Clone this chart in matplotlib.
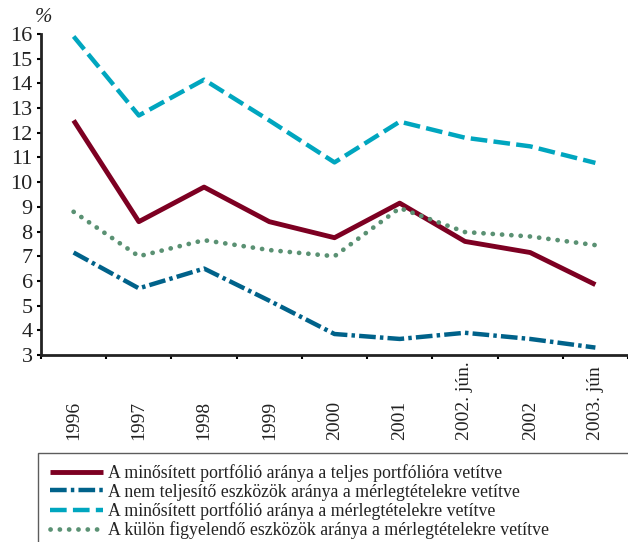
import numpy as np
import matplotlib
matplotlib.use("Agg")
import matplotlib.pyplot as plt

plt.rcParams['font.family'] = ['Liberation Serif', 'DejaVu Serif']
plt.rcParams['lines.scale_dashes'] = False

categories = ["1996", "1997", "1998", "1999", "2000", "2001",
              "2002. jún.", "2002", "2003. jún"]

minositett_teljes = [12.5, 8.4, 9.8, 8.4, 7.75, 9.15, 7.6, 7.15, 5.85]
nem_teljesito = [7.15, 5.7, 6.5, 5.2, 3.85, 3.65, 3.9, 3.65, 3.3]
minositett_merleg = [15.9, 12.7, 14.15, 12.5, 10.8, 12.45, 11.8, 11.45, 10.78]
kulon_figyelendo = [8.8, 7.0, 7.65, 7.25, 7.0, 8.95, 7.98, 7.8, 7.45]

labels = [
    "A minősített portfólió aránya a teljes portfólióra vetítve",
    "A nem teljesítő eszközök aránya a mérlegtételekre vetítve",
    "A minősített portfólió aránya a mérlegtételekre vetítve",
    "A külön figyelendő eszközök aránya a mérlegtételekre vetítve",
]

fig = plt.figure(figsize=(6.28, 5.42), dpi=100)
ax = fig.add_axes([41 / 628, 1 - 355 / 542, 1 - 41 / 628, (355 - 34) / 542])

x = np.arange(len(categories))
ax.plot(x, minositett_teljes, color='#7D0022', lw=3.5,
        solid_capstyle='butt', label=labels[0])
ax.plot(x, nem_teljesito, color='#00628A', lw=3.2,
        dashes=(12, 3, 2.5, 3), dash_capstyle='butt', label=labels[1])
ax.plot(x, minositett_merleg, color='#00A6BF', lw=3.2,
        dashes=(12, 4.5), dash_capstyle='butt', label=labels[2])
ax.plot(x, kulon_figyelendo, color='#5A9173', lw=3.4,
        dashes=(0.1, 6.6), dash_capstyle='round', label=labels[3])

ax.set_xlim(-0.5, len(categories) - 0.5)
ax.set_ylim(3, 16)
ax.set_yticks(range(3, 17))
ax.tick_params(axis='y', direction='out', length=3, width=1.5,
               labelsize=16, pad=3, labelcolor='#222222')

ax.set_xticks(x)
ax.set_xticklabels(categories, rotation=90, va='bottom', ha='center')
ax.set_xticks(np.arange(-0.5, len(categories), 1), minor=True)
ax.tick_params(axis='x', which='major', length=0, labelsize=14, pad=61,
               labelcolor='#222222')
ax.tick_params(axis='x', which='minor', direction='out', length=3, width=1.5)

for s in ['top', 'right']:
    ax.spines[s].set_visible(False)
for s in ['left', 'bottom']:
    ax.spines[s].set_linewidth(2)
    ax.spines[s].set_color('#222222')

fig.text(44 / 628, 1 - 18 / 542, "%", fontsize=15, ha='center', va='center',
         style='italic', color='#222222')

top = 1 - 453 / 542
leg = fig.legend(loc='upper left', mode='expand',
                 bbox_to_anchor=(38 / 628, top - 0.2, 1 - 38 / 628 + 0.02, 0.2),
                 fontsize=12.8, frameon=True, fancybox=False, borderaxespad=0,
                 handlelength=3.0, handletextpad=0.3, labelspacing=0.07,
                 borderpad=0.65, edgecolor='#333333')
leg.get_frame().set_linewidth(1.0)
for t in leg.get_texts():
    t.set_color('#222222')

fig.savefig("out.png", dpi=100)
